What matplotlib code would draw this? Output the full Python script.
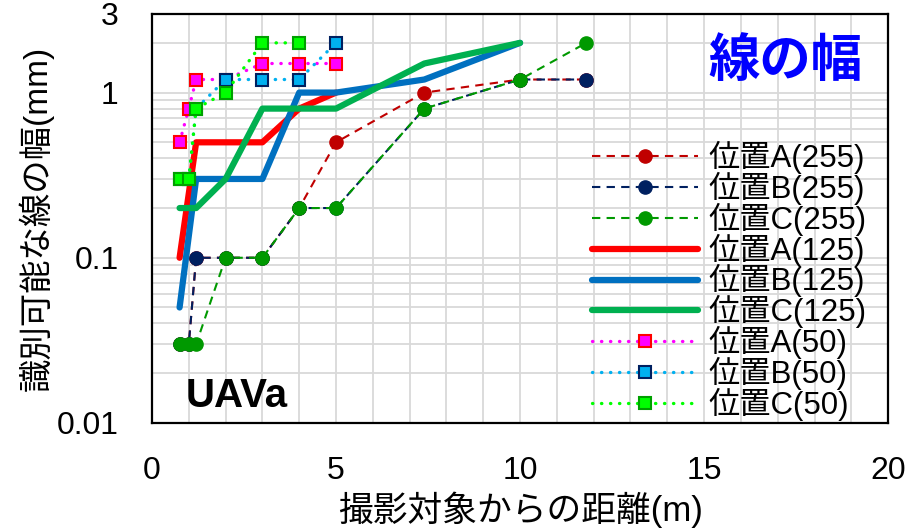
import matplotlib
matplotlib.use("Agg")
import matplotlib.pyplot as plt
from matplotlib.ticker import FixedLocator, MultipleLocator, LogLocator, NullFormatter

plt.rcParams['font.family'] = ['Liberation Sans', 'Noto Sans CJK JP']

# 撮影距離 (m)
x_255 = [0.75, 1.0, 1.2, 2, 3, 4, 5, 7.4, 10, 11.8]
a_255 = [0.03, 0.03, 0.1, 0.1, 0.1, 0.2, 0.5, 1.0, 1.2, 1.2]
b_255 = [0.03, 0.03, 0.1, 0.1, 0.1, 0.2, 0.2, 0.8, 1.2, 1.2]
c_255 = [0.03, 0.03, 0.03, 0.1, 0.1, 0.2, 0.2, 0.8, 1.2, 2.0]

xa_125 = [0.75, 1.2, 3, 4, 5]
a_125 = [0.1, 0.5, 0.5, 0.8, 1.0]
xb_125 = [0.75, 1.2, 3, 4, 5, 7.4, 10]
b_125 = [0.05, 0.3, 0.3, 1.0, 1.0, 1.2, 2.0]
xc_125 = [0.75, 1.2, 2, 3, 5, 7.4, 10]
c_125 = [0.2, 0.2, 0.3, 0.8, 0.8, 1.5, 2.0]

x_50 = [0.75, 1.0, 1.2, 2, 3, 4, 5]
a_50 = [0.5, 0.8, 1.2, 1.2, 1.5, 1.5, 1.5]
b_50 = [0.3, 0.3, 0.8, 1.2, 1.2, 1.2, 2.0]
xc_50 = [0.75, 1.0, 1.2, 2, 3, 4]
c_50 = [0.3, 0.3, 0.8, 1.0, 2.0, 2.0]

fig = plt.figure(figsize=(9.1, 5.3), dpi=100)
ax = fig.add_axes([0.167, 0.202, 0.809, 0.772])

dash = dict(ls=(0, (4, 3)), lw=1.5, marker='o', ms=9.5)
ax.plot(x_255, a_255, color='#C00000', label='位置A(255)', **dash)
ax.plot(x_255, b_255, color='#002060', label='位置B(255)', **dash)
ax.plot(x_255, c_255, color='#009900', label='位置C(255)', **dash)

thick = dict(lw=4.5, solid_capstyle='round', solid_joinstyle='round')
ax.plot(xa_125, a_125, color='#FF0000', label='位置A(125)', **thick)
ax.plot(xb_125, b_125, color='#0070C0', label='位置B(125)', **thick)
ax.plot(xc_125, c_125, color='#00B050', label='位置C(125)', **thick)

dot = dict(ls=(0, (0.1, 2.6)), lw=2.4, dash_capstyle='round', marker='s', ms=8.5, mew=1.5)
ax.plot(x_50, a_50, color='#FF00FF', mfc='#FF00FF', mec='#FF0000', label='位置A(50)', **dot)
ax.plot(x_50, b_50, color='#00B0F0', mfc='#00B0F0', mec='#002060', label='位置B(50)', **dot)
ax.plot(xc_50, c_50, color='#00FF00', mfc='#00FF00', mec='#00A000', label='位置C(50)', **dot)

ax.set_yscale('log')
ax.set_xlim(0, 20)
ax.set_ylim(0.01, 3)
ax.xaxis.set_major_locator(MultipleLocator(5))
ax.xaxis.set_minor_locator(MultipleLocator(1))
ax.yaxis.set_major_locator(FixedLocator([0.01, 0.1, 1, 3]))
ax.yaxis.set_minor_locator(LogLocator(base=10, subs=range(2, 10)))
ax.yaxis.set_minor_formatter(NullFormatter())
ax.set_yticklabels(['0.01', '0.1', '1', '3'])
ax.grid(True, which='both', color='#D9D9D9', lw=1.3)
ax.set_axisbelow(True)
ax.tick_params(which='both', length=0, labelsize=23, pad=24)

for s in ax.spines.values():
    s.set_linewidth(1.6)
    s.set_color('black')

ax.set_xlabel('撮影対象からの距離(m)', fontsize=25, labelpad=4)
ax.set_ylabel('識別可能な線の幅(mm)', fontsize=24, labelpad=2)

ax.text(0.86, 0.88, '線の幅', transform=ax.transAxes, fontsize=37, fontweight='bold',
        color='#0000FF', ha='center', va='center')
ax.text(0.115, 0.065, 'UAVa', transform=ax.transAxes, fontsize=29, fontweight='bold',
        color='black', ha='center', va='center')

ax.legend(loc='upper left', bbox_to_anchor=(0.598, 0.69), fontsize=22.5, frameon=False,
          handlelength=3.4, handletextpad=0.33, labelspacing=-0.07,
          borderpad=0, borderaxespad=0, numpoints=1)

fig.savefig('out.png', dpi=100)
